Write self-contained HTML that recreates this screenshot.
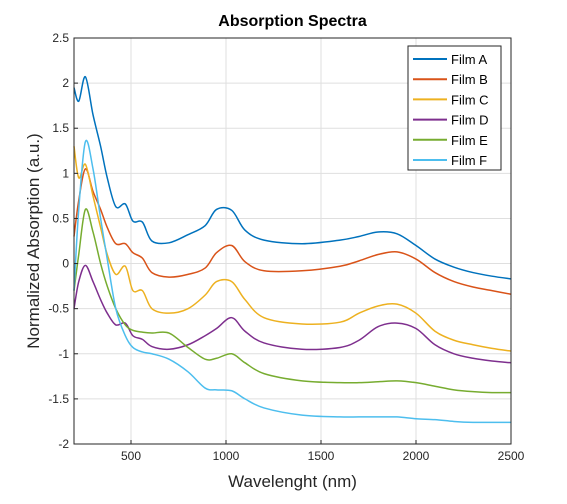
<!DOCTYPE html>
<html><head><meta charset="utf-8"><style>
body{margin:0;background:#fff;font-family:"Liberation Sans",sans-serif}
</style></head><body>
<svg id="c" width="567" height="499" xmlns="http://www.w3.org/2000/svg"></svg>
<script>
const wavelengths=[200,225,260,300,340,375,420,470,510,560,610,700,800,890,950,1030,1100,1200,1400,1600,1700,1800,1900,2000,2100,2200,2300,2400,2500];
const filmA=[1.95,1.8,2.07,1.65,1.3,0.95,0.63,0.66,0.47,0.46,0.25,0.23,0.32,0.42,0.6,0.59,0.37,0.26,0.22,0.26,0.3,0.35,0.33,0.2,0.05,-0.04,-0.1,-0.14,-0.17];
const filmB=[0.3,0.7,1.05,0.8,0.6,0.4,0.22,0.22,0.12,0.06,-0.1,-0.15,-0.12,-0.05,0.12,0.2,0.02,-0.08,-0.08,-0.03,0.03,0.1,0.13,0.05,-0.1,-0.2,-0.26,-0.3,-0.34];
const filmC=[1.3,0.95,1.1,0.75,0.4,0.1,-0.12,-0.03,-0.3,-0.3,-0.5,-0.55,-0.5,-0.35,-0.2,-0.2,-0.4,-0.6,-0.67,-0.65,-0.55,-0.47,-0.45,-0.55,-0.75,-0.85,-0.9,-0.94,-0.97];
const filmD=[-0.5,-0.2,-0.02,-0.2,-0.4,-0.55,-0.68,-0.66,-0.8,-0.84,-0.92,-0.95,-0.9,-0.8,-0.72,-0.6,-0.75,-0.88,-0.95,-0.93,-0.85,-0.7,-0.66,-0.72,-0.9,-1.0,-1.05,-1.08,-1.1];
const filmE=[-0.3,0.1,0.6,0.35,0.0,-0.25,-0.5,-0.68,-0.74,-0.76,-0.77,-0.77,-0.93,-1.06,-1.05,-1.0,-1.1,-1.22,-1.3,-1.32,-1.32,-1.31,-1.3,-1.32,-1.36,-1.4,-1.42,-1.43,-1.43];
const filmF=[-0.3,0.6,1.35,1.05,0.5,0.05,-0.5,-0.8,-0.93,-0.98,-1.0,-1.06,-1.2,-1.38,-1.4,-1.41,-1.5,-1.6,-1.68,-1.7,-1.7,-1.7,-1.7,-1.72,-1.73,-1.75,-1.76,-1.76,-1.76];
const seriesNames=["Film A","Film B","Film C","Film D","Film E","Film F"];
const xTicks=[500,1000,1500,2000,2500];
const yTicks=[-2,-1.5,-1,-0.5,0,0.5,1,1.5,2,2.5];
const yTickLabels=["-2","-1.5","-1","-0.5","0","0.5","1","1.5","2","2.5"];
const colors=["#0072bd","#d95319","#edb120","#7e2f8e","#77ac30","#4dbeee"];
const L=74,R=511,T=38,B=444;
const X=v=>L+(v-200)/(2500-200)*(R-L);
const Y=v=>B-(v+2)/4.5*(B-T);
const svg=document.getElementById('c');
const NS="http://www.w3.org/2000/svg";
function mk(t,a,p){const e=document.createElementNS(NS,t);for(const k in a)e.setAttribute(k,a[k]);(p||svg).appendChild(e);return e;}
mk('rect',{x:L,y:T,width:R-L,height:B-T,fill:'#fff'});
const grid=mk('g',{});


xTicks.forEach(t=>mk('line',{x1:X(t),x2:X(t),y1:T,y2:B,stroke:'#dfdfdf'},grid));
yTicks.forEach(t=>mk('line',{x1:L,x2:R,y1:Y(t),y2:Y(t),stroke:'#dfdfdf'},grid));
const data=[filmA,filmB,filmC,filmD,filmE,filmF];
function path(vals){const p=wavelengths.map((w,i)=>[X(w),Y(vals[i])]);let d=`M${p[0][0]},${p[0][1]}`;
for(let i=0;i<p.length-1;i++){const p0=p[i-1]||p[i],p1=p[i],p2=p[i+1],p3=p[i+2]||p2;
d+=` C${p1[0]+(p2[0]-p0[0])/6},${p1[1]+(p2[1]-p0[1])/6} ${p2[0]-(p3[0]-p1[0])/6},${p2[1]-(p3[1]-p1[1])/6} ${p2[0]},${p2[1]}`;}return d;}
data.forEach((v,i)=>{const e=mk('path',{d:path(v),fill:'none',stroke:colors[i],'stroke-width':1.5});

});
mk('rect',{x:L,y:T,width:R-L,height:B-T,fill:'none',stroke:'#262626','stroke-width':1});
xTicks.forEach(t=>{mk('line',{x1:X(t),x2:X(t),y1:B,y2:B-4,stroke:'#262626'});
const e=mk('text',{x:X(t),y:B+16,'text-anchor':'middle','font-size':12,fill:'#262626'});e.textContent=t;
});
yTicks.forEach((t,i)=>{mk('line',{x1:L,x2:L+4,y1:Y(t),y2:Y(t),stroke:'#262626'});
const e=mk('text',{x:L-5,y:Y(t)+4,'text-anchor':'end','font-size':12,fill:'#262626'});e.textContent=yTickLabels[i];
});
let e=mk('text',{x:(L+R)/2,y:26,'text-anchor':'middle','font-size':16,'font-weight':'bold',fill:'#000'});e.textContent='Absorption Spectra';

e=mk('text',{x:(L+R)/2,y:487,'text-anchor':'middle','font-size':17,fill:'#262626'});e.textContent='Wavelenght (nm)';

e=mk('text',{x:0,y:0,'text-anchor':'middle','font-size':17,fill:'#262626',transform:`translate(39,${(T+B)/2}) rotate(-90)`});e.textContent='Normalized Absorption (a.u.)';

const lg=mk('g',{});


mk('rect',{x:408,y:46,width:93,height:124,fill:'#fff',stroke:'#262626'},lg);
seriesNames.forEach((n,i)=>{const y=59+i*20.2;
mk('line',{x1:413,x2:447,y1:y,y2:y,stroke:colors[i],'stroke-width':2},lg);
const t=mk('text',{x:451,y:y+5,'font-size':13,fill:'#000'},lg);t.textContent=n;
});
</script>
</body></html>
